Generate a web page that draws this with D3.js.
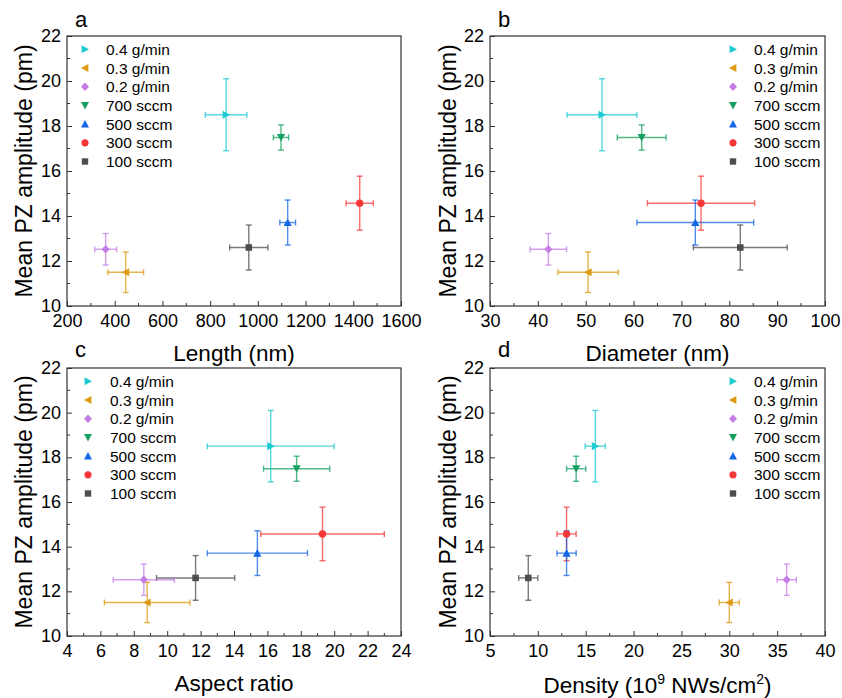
<!DOCTYPE html>
<html><head><meta charset="utf-8">
<script src="https://cdn.jsdelivr.net/npm/d3@7"></script>
<style>
body{margin:0;background:#fff;}
svg{font-family:"Liberation Sans",Arial,sans-serif;}
</style></head>
<body><svg id="c" width="842" height="698"></svg>
<script>
const series = ["0.4 g/min","0.3 g/min","0.2 g/min","700 sccm","500 sccm","300 sccm","100 sccm"];
const colors = ["#1dcbd3","#dd9a12","#c47ee6","#15a061","#1566e4","#f43838","#4d4d4d"];
const shapes = ["right","left","diamond","down","up","circle","square"];
const amplitude = [18.5, 11.5, 12.52, 17.49, 13.71, 14.57, 12.6];
const amplitudeErr = [1.6, 0.9, 0.7, 0.56, 1.0, 1.2, 1.0];
const length = [867, 446, 362, 1097, 1125, 1427, 962];
const lengthErr = [87, 75, 46, 32, 33, 57, 80];
const diameter = [53.4, 50.5, 42.2, 61.7, 72.9, 74.1, 82.3];
const diameterErr = [7.3, 6.3, 3.8, 5.1, 12.2, 11.2, 9.8];
const aspect = [16.2, 8.8, 8.6, 17.75, 15.4, 19.3, 11.7];
const aspectErr = [3.8, 2.56, 1.83, 1.98, 3.0, 3.7, 2.34];
const density = [16, 30, 36, 14, 13, 13, 9];
const densityErr = [1.05, 1.05, 1, 1, 1, 1, 1];
const yTicks = [10,12,14,16,18,20,22];
const lengthTicks = [200,400,600,800,1000,1200,1400,1600];
const diameterTicks = [30,40,50,60,70,80,90,100];
const aspectTicks = [4,6,8,10,12,14,16,18,20,22,24];
const densityTicks = [5,10,15,20,25,30,35,40];

const svg = d3.select("#c");
const FONT = "Liberation Sans, Arial, sans-serif";

function symPath(shape, r){
  switch(shape){
    case "right": return `M${-r*0.85},${-r}L${r},0L${-r*0.85},${r}Z`;
    case "left": return `M${r*0.85},${-r}L${-r},0L${r*0.85},${r}Z`;
    case "up": return `M${-r},${r*0.85}L0,${-r}L${r},${r*0.85}Z`;
    case "down": return `M${-r},${-r*0.85}L0,${r}L${r},${-r*0.85}Z`;
    case "diamond": return `M0,${-r*1.05}L${r},0L0,${r*1.05}L${-r},0Z`;
    case "square": return `M${-r*0.8},${-r*0.8}H${r*0.8}V${r*0.8}H${-r*0.8}Z`;
    case "circle": return d3.arc()({innerRadius:0,outerRadius:r*0.9,startAngle:0,endAngle:2*Math.PI});
  }
}

const panels = [
  {id:"a", box:[67,401,36,306], xv:length, xe:lengthErr, ticks:lengthTicks, minorStep:100, title:"Length (nm)", titleY:361, legend:[85,106], yTitleX:32, letterX:75, letterY:27},
  {id:"b", box:[490,825,36,306], xv:diameter, xe:diameterErr, ticks:diameterTicks, minorStep:5, title:"Diameter (nm)", titleY:361, legend:[733,754], yTitleX:456, letterX:498, letterY:27},
  {id:"c", box:[67,401,368,636], xv:aspect, xe:aspectErr, ticks:aspectTicks, minorStep:1, title:"Aspect ratio", titleY:691, legend:[88,110], yTitleX:32, letterX:75, letterY:357},
  {id:"d", box:[490,825,368,636], xv:density, xe:densityErr, ticks:densityTicks, minorStep:2.5, title:"Density", titleY:693, legend:[733,754], yTitleX:456, letterX:498, letterY:357}
];

panels.forEach(p=>{
  const [x0,x1,y0,y1] = p.box;
  const x = d3.scaleLinear().domain([p.ticks[0], p.ticks[p.ticks.length-1]]).range([x0,x1]);
  const y = d3.scaleLinear().domain([10,22]).range([y1,y0]);
  const g = svg.append("g");
  const xmin = d3.range(p.ticks[0]+p.minorStep, p.ticks[p.ticks.length-1], p.minorStep*2);
  const xAxis = d3.axisBottom(x).tickValues(p.ticks).tickSize(-5).tickPadding(8).tickFormat(d3.format("d"));
  const gx = g.append("g").attr("transform",`translate(0,${y1})`).call(xAxis);
  gx.append("g").selectAll("line").data(xmin).join("line")
    .attr("x1",d=>x(d)).attr("x2",d=>x(d)).attr("y1",0).attr("y2",-3).attr("stroke","#333");
  const yAxis = d3.axisLeft(y).tickValues(yTicks).tickSize(-5).tickPadding(6);
  const gy = g.append("g").attr("transform",`translate(${x0},0)`).call(yAxis);
  gy.append("g").selectAll("line").data([11,13,15,17,19,21]).join("line")
    .attr("y1",d=>y(d)).attr("y2",d=>y(d)).attr("x1",0).attr("x2",3).attr("stroke","#333");
  [gx,gy].forEach(a=>{
    a.attr("font-family",FONT);
    a.select(".domain").remove();
    a.selectAll(".tick line").attr("stroke","#333");
    a.selectAll("text").attr("font-size",18).attr("fill","#000").attr("font-family",FONT);
  });
  gx.selectAll(".tick text").attr("dy","0.71em");
  gy.selectAll(".tick text").attr("dy","0.3em");
  g.append("rect").attr("x",x0).attr("y",y0).attr("width",x1-x0).attr("height",y1-y0)
    .attr("fill","none").attr("stroke","#333").attr("stroke-width",1.2);

  const idx = d3.range(series.length).reverse();
  const cap = 3;
  idx.forEach(i=>{
    const cx = x(p.xv[i]), cy = y(amplitude[i]);
    const eg = g.append("g").attr("stroke",colors[i]).attr("stroke-width",1.4).attr("stroke-opacity",0.75).attr("fill","none");
    const xl = x(p.xv[i]-p.xe[i]), xr = x(p.xv[i]+p.xe[i]);
    const yt = y(amplitude[i]+amplitudeErr[i]), yb = y(amplitude[i]-amplitudeErr[i]);
    eg.append("line").attr("x1",xl).attr("x2",xr).attr("y1",cy).attr("y2",cy);
    eg.append("line").attr("x1",xl).attr("x2",xl).attr("y1",cy-cap).attr("y2",cy+cap);
    eg.append("line").attr("x1",xr).attr("x2",xr).attr("y1",cy-cap).attr("y2",cy+cap);
    eg.append("line").attr("x1",cx).attr("x2",cx).attr("y1",yt).attr("y2",yb);
    eg.append("line").attr("x1",cx-cap).attr("x2",cx+cap).attr("y1",yt).attr("y2",yt);
    eg.append("line").attr("x1",cx-cap).attr("x2",cx+cap).attr("y1",yb).attr("y2",yb);
  });
  idx.forEach(i=>{
    g.append("path").attr("d",symPath(shapes[i],4.1))
      .attr("transform",`translate(${x(p.xv[i])},${y(amplitude[i])})`).attr("fill",colors[i]);
  });

  const ly0 = y0 + 13.3;
  series.forEach((s,i)=>{
    const ly = ly0 + i*18.7;
    g.append("path").attr("d",symPath(shapes[i],4.0)).attr("transform",`translate(${p.legend[0]},${ly})`).attr("fill",colors[i]);
    g.append("text").attr("x",p.legend[1]).attr("y",ly).attr("dy","0.36em").attr("font-size",15.5).attr("fill","#000").text(s);
  });

  const tx = (x0+x1)/2;
  const t = g.append("text").attr("x",tx).attr("y",p.titleY).attr("text-anchor","middle").attr("font-size",22.5).attr("fill","#000");
  if(p.id==="d"){
    t.append("tspan").text("Density (10");
    t.append("tspan").attr("dy",-9).attr("font-size",14).text("9");
    t.append("tspan").attr("dy",9).text(" NWs/cm");
    t.append("tspan").attr("dy",-9).attr("font-size",14).text("2");
    t.append("tspan").attr("dy",9).text(")");
  } else t.text(p.title);
  g.append("text").attr("transform",`translate(${p.yTitleX},${(y0+y1)/2}) rotate(-90)`)
    .attr("text-anchor","middle").attr("font-size",23).attr("fill","#000").text("Mean PZ amplitude (pm)");
  g.append("text").attr("x",p.letterX).attr("y",p.letterY).attr("font-size",22).attr("fill","#000").text(p.id);
});
</script></body></html>
